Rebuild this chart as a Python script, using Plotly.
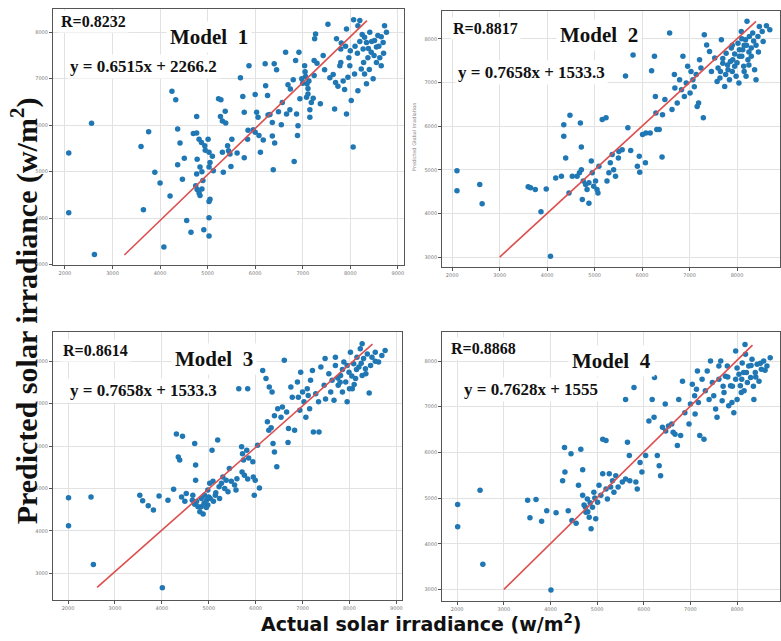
import plotly.graph_objects as go

# Model 1 (actual vs predicted)
m1_actual = [2080, 2080, 2560, 2620, 3600, 3760, 3650, 3890, 4000, 4080,
             4210, 4250, 4330, 4370, 4420, 4370, 4470, 4510, 4560, 4650,
             4700, 4770, 4770, 4780, 4770, 4750, 4780, 4820, 4840, 4880,
             4900, 4840, 4880, 4820, 4870, 4940, 5010, 4950, 5030, 5100,
             5050, 5030, 4920, 5030, 5030, 5050, 5030, 5120, 5230, 5280,
             5270, 5310, 5370, 5380, 5310, 5330, 5420, 5440, 5470, 5490,
             5620, 5510, 5690, 5740, 5770, 5770, 5840, 5850, 5870, 5960,
             6000, 6030, 6000, 6080, 6110, 6060, 6170, 6210, 6220, 6260,
             6270, 6310, 6360, 6360, 6410, 6380, 6400, 6450, 6490, 6550,
             6570, 6640, 6660, 6690, 6740, 6800, 6730, 6820, 6870, 6890,
             6900, 6850, 6920, 6940, 7040, 7060, 7090, 7110, 7110, 7150,
             7150, 7180, 7220, 7240, 7240, 7250, 7270, 7300, 7370, 7430,
             7460, 7530, 7570, 7640, 7670, 7690, 7740, 7800, 7800, 7810,
             7850, 7880, 7920, 7950, 7990, 8020, 8060, 7920, 8070, 8160,
             8200, 8270, 8300, 8340, 8370, 8410, 8440, 8480, 8510, 8550,
             8580, 8620, 8650, 8690, 8720, 8760, 8280, 8230, 8340, 8160,
             8090, 7970, 7710, 7780,
             8100, 8150, 8200, 8250, 8380, 8450, 8500, 8600, 8650, 8400,
             8300, 8000, 7900, 8550, 8700, 7000, 7050, 7130, 7080, 6980]
m1_pred = [5400, 4120, 6040, 3220, 5540, 5860, 4180, 4990, 4760, 3380,
           4480, 6730, 6550, 5920, 5620, 5150, 4840, 5290, 3950, 3700,
           5820, 5830, 6190, 5270, 4950, 4700, 4620, 4540, 4490, 4630,
           4810, 5100, 5000, 5700, 5630, 5560, 5700, 5460, 5420, 5330,
           5200, 5100, 3750, 3620, 4010, 4410, 4360, 5020, 6570, 6550,
           6190, 6090, 6300, 6050, 5420, 4990, 5560, 5450, 5380, 5110,
           5400, 5700, 7020, 6620, 6280, 5300, 5700, 5890, 7280, 5900,
           6660, 6280, 5850, 5780, 5420, 6170, 5680, 7320, 6850, 6640,
           6220, 6230, 6060, 5770, 5620, 5040, 7320, 7190, 6290, 6010,
           6490, 7570, 6240, 6870, 6780, 6980, 6330, 5220, 6240, 5780,
           5990, 7390, 7570, 6570, 7280, 7050, 6890, 6790, 6670, 6330,
           6170, 6490, 6580, 7070, 7390, 7860, 7960, 7330, 6460, 7500,
           7190, 8170, 7020, 7090, 6350, 6920, 6840, 7640, 7350, 7770,
           6950, 6770, 6240, 7030, 7280, 6530, 5530, 8070, 8270, 8140,
           8250, 7640, 7890, 7780, 7450, 8000, 7570, 7000, 7820, 7680,
           7930, 7450, 7280, 7780, 8140, 8000, 7350, 7210, 6890, 6740,
           7100, 7450, 7860, 7280,
           7700, 7550, 7800, 7950, 7650, 7800, 7500, 7700, 7900, 7200,
           7100, 7600, 7700, 7350, 7550, 6900, 7150, 6950, 6600, 7000]
fit1_x = [3250, 8350]
fit1_y = [3210, 8250]

# Model 2
m2_actual = [2100, 2100, 2580, 2630, 3600, 3650, 3750, 3980, 3870, 4070,
             4180, 4300, 4350, 4350, 4390, 4460, 4480, 4530, 4630, 4700,
             4720, 4720, 4680, 4740, 4760, 4810, 4840, 4880, 4880, 4930,
             4950, 4980, 5020, 5050, 5070, 5090, 5160, 5240, 5260, 5300,
             5330, 5370, 5400, 5440, 5500, 5510, 5580, 5650, 5700, 5760,
             5810, 5900, 5950, 5940, 6010, 6080, 6070, 6170, 6200, 6260,
             6280, 6290, 6310, 6360, 6420, 6430, 6480, 6580, 6630, 6680,
             6690, 6740, 6790, 6860, 6830, 6890, 6930, 6960, 7010, 7030,
             7070, 7100, 7140, 7160, 7190, 7210, 7240, 7290, 7310, 7360,
             7420, 7460, 7530, 7580, 7640, 7670, 7700, 7740, 7770, 7810,
             7840, 7880, 7910, 7950, 7980, 8020, 8050, 8090, 8120, 8140,
             8180, 8210, 8230, 8260, 8300, 8330, 8370, 8400, 8440, 8470,
             8530, 8620, 8690, 8550, 7760, 7600, 8040, 8190, 7860,
             8100, 8250, 7950, 8350, 8150, 7900,
             7700, 7800, 7900, 8000, 8100, 8200, 8300, 8400, 8450, 8150,
             7650, 8050, 8250]
m2_pred = [4980, 4520, 4660, 4220, 4610, 4590, 4550, 4560, 4040, 3020,
           4810, 4850, 6030, 5770, 5270, 4470, 6250, 4850, 4850, 6070,
           5520, 5000, 4930, 4320, 4740, 4660, 4550, 4230, 4700, 5200,
           4930, 4620, 4740, 4550, 4470, 5080, 6150, 6190, 4740, 4930,
           5160, 5350, 5000, 4850, 5270, 5420, 5460, 7150, 5960, 5440,
           7630, 5080, 4940, 5310, 5810, 5840, 5160, 5840, 7270, 7600,
           6680, 6300, 5920, 5920, 5290, 6260, 6610, 8130, 6380, 7180,
           6870, 6530, 7060, 7600, 6830, 6680, 6990, 7370, 6760, 7250,
           7060, 6900, 7180, 6450, 6530, 7520, 7330, 6190, 8090, 7860,
           7710, 7250, 7560, 7020, 7100, 7980, 7440, 6910, 7670, 7290,
           7060, 7790, 7520, 7370, 7140, 7900, 7600, 8170, 7750, 7370,
           7980, 8400, 7520, 8050, 7790, 8130, 7290, 7060, 8050, 8280,
           8170, 8300, 8210, 7940, 7180, 7330, 6990, 7140, 7480,
           7600, 7700, 7650, 7950, 7850, 7250,
           7550, 7400, 7850, 7450, 8000, 7850, 7600, 7850, 7700, 7250,
           7250, 7750, 7400]
fit2_x = [3000, 8400]
fit2_y = [3000, 8400]

# Model 3
m3_actual = [2010, 2010, 2490, 2540, 4010, 3530, 3590, 3710, 3820, 3940,
             4130, 4250, 4310, 4440, 4350, 4380, 4420, 4490, 4520, 4700,
             4720, 4720, 4660, 4650, 4700, 4740, 4770, 4810, 4840, 4880,
             4840, 4910, 4950, 4980, 5020, 4980, 5030, 5070, 5090, 5140,
             5190, 5220, 5230, 5270, 5300, 5340, 5370, 5410, 5440, 5480,
             5550, 5580, 5600, 5700, 5720, 5740, 5710, 5760, 5810, 5850,
             5830, 5940, 5950, 5990, 5970, 6040, 6080, 6150, 6220, 6250,
             6280, 6330, 6290, 6350, 6370, 6400, 6450, 6400, 6470, 6540,
             6570, 6610, 6660, 6690, 6700, 6750, 6780, 6830, 6890, 6910,
             6940, 6960, 7000, 7030, 7070, 7100, 7120, 7150, 7170, 7210,
             7230, 7350, 7280, 7340, 7390, 7460, 7490, 7560, 7600, 7630,
             7670, 7700, 7760, 7810, 7850, 7880, 7920, 7950, 7990, 8020,
             8060, 8090, 8130, 8160, 8200, 8230, 8270, 8300, 8340, 8380,
             8420, 8480, 8550, 8620, 8690, 8760, 8270, 7700, 7480, 5640,
             5830,
             7750, 7850, 7950, 8050, 8150, 8250, 8350, 8450, 8100, 7800,
             8550, 8000, 4900, 5000, 5100, 4950, 5150]
m3_pred = [4780, 4120, 4800, 3210, 2660, 4840, 4710, 4590, 4490, 4820,
           4720, 4980, 6280, 6230, 5740, 5670, 4800, 4700, 4880, 6060,
           5550, 5190, 4840, 4720, 4630, 4690, 4570, 4450, 4570, 4400,
           4760, 4840, 4720, 4960, 5120, 4610, 4760, 5900, 5170, 4840,
           6140, 5040, 4760, 5120, 5270, 5000, 5190, 4920, 5470, 5170,
           5080, 4960, 5230, 5980, 5820, 5670, 5390, 5310, 5900, 5720,
           5220, 5630, 5270, 5190, 4840, 6020, 5010, 7780, 7590, 6570,
           6370, 6430, 7390, 7270, 6060, 5860, 5510, 6710, 6880, 6680,
           6920, 8020, 6800, 6080, 6410, 7390, 7150, 6370, 7510, 7150,
           6840, 7740, 7270, 7040, 6680, 7350, 7190, 6880, 7550, 7780,
           6330, 6330, 7230, 7040, 7860, 7430, 7110, 7700, 7270, 7550,
           7080, 7900, 7430, 7660, 7270, 7980, 7510, 7040, 7740, 8210,
           7350, 7940, 7590, 8090, 7860, 8290, 7660, 8060, 7820, 8170,
           7250, 8090, 8210, 7980, 8130, 8250, 8410, 8090, 8060, 7350,
           7350,
           7600, 7800, 7900, 7650, 7800, 7950, 7700, 7900, 7450, 7500,
           8000, 7350, 4650, 4800, 4700, 4550, 4900]
fit3_x = [2620, 8490]
fit3_y = [2670, 8400]

# Model 4
m4_actual = [2010, 2010, 2490, 2550, 4010, 3510, 3690, 3560, 3810, 3920,
             4120, 4260, 4300, 4310, 4380, 4440, 4460, 4550, 4600, 4650,
             4690, 4690, 4720, 4760, 4790, 4830, 4870, 4900, 4930, 4970,
             5010, 5040, 5080, 5120, 5190, 5120, 5190, 5220, 5260, 5290,
             5330, 5360, 5400, 5450, 5540, 5610, 5610, 5650, 5700, 5790,
             5690, 5830, 5860, 5920, 5960, 6040, 6110, 6180, 6220, 6230,
             6290, 6330, 6360, 6400, 6460, 6470, 6530, 6600, 6630, 6670,
             6720, 6750, 6790, 6830, 6880, 6970, 7000, 7040, 7090, 7100,
             7130, 7150, 7170, 7200, 7250, 7290, 7320, 7360, 7400, 7430,
             7470, 7500, 7540, 7570, 7610, 7650, 7680, 7720, 7750, 7790,
             7820, 7860, 7890, 7930, 7970, 8000, 8040, 8070, 8110, 8140,
             8180, 8220, 8250, 8290, 8320, 8360, 8390, 8430, 8470, 8520,
             8570, 8640, 8710, 8170, 7970, 7610, 8090,
             7800, 7900, 8000, 8100, 8200, 8300, 8400, 8500, 8150, 7700,
             8350, 8600, 4750, 4850, 4800, 4950]
m4_pred = [4860, 4370, 5170, 3550, 2990, 4950, 4970, 4570, 4490, 4720,
           4680, 5380, 6110, 5570, 4720, 5970, 4510, 4450, 5280, 6070,
           5620, 5060, 4850, 4690, 4980, 4580, 4330, 4800, 5130, 4550,
           4910, 5280, 5060, 6290, 6260, 5530, 5200, 4980, 5530, 5240,
           5380, 5130, 5490, 5240, 5350, 7160, 5420, 6220, 5380, 7420,
           5930, 5350, 5200, 5780, 5570, 5930, 6690, 7160, 6770, 7640,
           5930, 5710, 5490, 6550, 7060, 6470, 6580, 6620, 6440, 6400,
           6150, 7160, 6370, 7560, 6870, 6620, 7060, 7490, 7240, 6840,
           7380, 7780, 7090, 6370, 7600, 6290, 7350, 7780, 7160, 8000,
           7530, 7240, 6950, 6770, 7600, 8000, 7130, 7310, 7670, 7890,
           7020, 7460, 7090, 6870, 7600, 7160, 7710, 7460, 7960, 7750,
           8150, 7530, 7890, 7640, 8040, 7160, 7750, 7930, 7560, 7820,
           8000, 7890, 8070, 8360, 8220, 7890, 7310,
           7650, 7450, 7850, 7600, 7750, 7900, 7650, 7950, 7350, 7450,
           7450, 7800, 4800, 4900, 4700, 5000]
fit4_x = [3000, 8330]
fit4_y = [3000, 8350]

r_labels = ["R=0.8232", "R=0.8817", "R=0.8614", "R=0.8868"]
model_labels = ["Model  1", "Model  2", "Model  3", "Model  4"]
eq_labels = ["y = 0.6515x + 2266.2", "y = 0.7658x + 1533.3",
             "y = 0.7658x + 1533.3", "y = 0.7628x + 1555"]

panels = [
    (m1_actual, m1_pred, fit1_x, fit1_y),
    (m2_actual, m2_pred, fit2_x, fit2_y),
    (m3_actual, m3_pred, fit3_x, fit3_y),
    (m4_actual, m4_pred, fit4_x, fit4_y),
]

# domains / ranges
x_domains = [[0.068, 0.518], [0.567, 1.0], [0.068, 0.516], [0.567, 1.0]]
y_domains = [[0.585, 0.986], [0.582, 0.983], [0.061, 0.480], [0.059, 0.480]]
x_ranges = [[1750, 9130], [1790, 8905], [1680, 9130], [1680, 8920]]
y_ranges = [[2990, 8500], [2770, 8640], [2370, 8680], [2740, 8630]]

fig = go.Figure()
for i, (xs, ys, fx, fy) in enumerate(panels):
    ax = "" if i == 0 else str(i + 1)
    fig.add_trace(go.Scatter(x=xs, y=ys, mode="markers",
                             marker=dict(color="#1f77b4", size=5.5),
                             xaxis="x" + ax, yaxis="y" + ax, showlegend=False))
    fig.add_trace(go.Scatter(x=fx, y=fy, mode="lines",
                             line=dict(color="#dd4f4f", width=1.6),
                             xaxis="x" + ax, yaxis="y" + ax, showlegend=False))

axis_style = dict(showgrid=True, gridcolor="#e2e2e2", gridwidth=1, zeroline=False,
                  showline=True, linecolor="#555", linewidth=1.2, mirror=True,
                  ticks="outside", ticklen=3, tickcolor="#555", dtick=1000,
                  tickfont=dict(size=5, color="#777", family="DejaVu Sans"))

layout = dict(width=781, height=641, margin=dict(l=0, r=0, t=0, b=0),
              paper_bgcolor="white", plot_bgcolor="white", showlegend=False)
for i in range(4):
    ax = "" if i == 0 else str(i + 1)
    layout["xaxis" + ax] = dict(axis_style, domain=x_domains[i], range=x_ranges[i],
                                anchor="y" + ax)
    layout["yaxis" + ax] = dict(axis_style, domain=y_domains[i], range=y_ranges[i],
                                anchor="x" + ax)
fig.update_layout(**layout)

serif = "Liberation Serif"
r_pos = [(0.120, 0.966), (0.622, 0.955), (0.122, 0.451), (0.620, 0.454)]
m_pos = [(0.268, 0.942), (0.768, 0.945), (0.274, 0.438), (0.784, 0.435)]
e_pos = [(0.184, 0.896), (0.682, 0.886), (0.184, 0.389), (0.681, 0.390)]
for i in range(4):
    fig.add_annotation(x=r_pos[i][0], y=r_pos[i][1], xref="paper", yref="paper",
                       xanchor="center", yanchor="middle",
                       text="<b>" + r_labels[i] + "</b>", showarrow=False,
                       font=dict(family=serif, size=16, color="#111"),
                       bgcolor="white", borderpad=2)
    fig.add_annotation(x=m_pos[i][0], y=m_pos[i][1], xref="paper", yref="paper",
                       xanchor="center", yanchor="middle",
                       text="<b>" + model_labels[i] + "</b>", showarrow=False,
                       font=dict(family=serif, size=21, color="#111"),
                       bgcolor="white", borderpad=3)
    fig.add_annotation(x=e_pos[i][0], y=e_pos[i][1], xref="paper", yref="paper",
                       xanchor="center", yanchor="middle",
                       text="<b>" + eq_labels[i] + "</b>", showarrow=False,
                       font=dict(family=serif, size=17, color="#111"),
                       bgcolor="white", borderpad=2)

# tiny leftover axis title on model 2
fig.add_annotation(x=0.531, y=0.786, xref="paper", yref="paper",
                   xanchor="center", yanchor="middle",
                   text="Predicted Global Irradiation", textangle=-90, showarrow=False,
                   font=dict(family="DejaVu Sans", size=5, color="#888"))

fig.add_annotation(x=0.031, y=0.513, xref="paper", yref="paper",
                   xanchor="center", yanchor="middle",
                   text="<b>Predicted solar irradiance (w/m<sup>2</sup>)</b>",
                   textangle=-90, showarrow=False,
                   font=dict(family=serif, size=30, color="#111"))
fig.add_annotation(x=0.540, y=0.025, xref="paper", yref="paper",
                   xanchor="center", yanchor="middle",
                   text="<b>Actual solar irradiance (w/m<sup>2</sup>)</b>",
                   showarrow=False,
                   font=dict(family="DejaVu Sans", size=19, color="#111"))

# page body margin would shift the figure, so drop it
fig.write_html("out.html", config={"displayModeBar": False},
               post_script="document.body.style.margin='0';document.body.style.overflow='hidden';")
